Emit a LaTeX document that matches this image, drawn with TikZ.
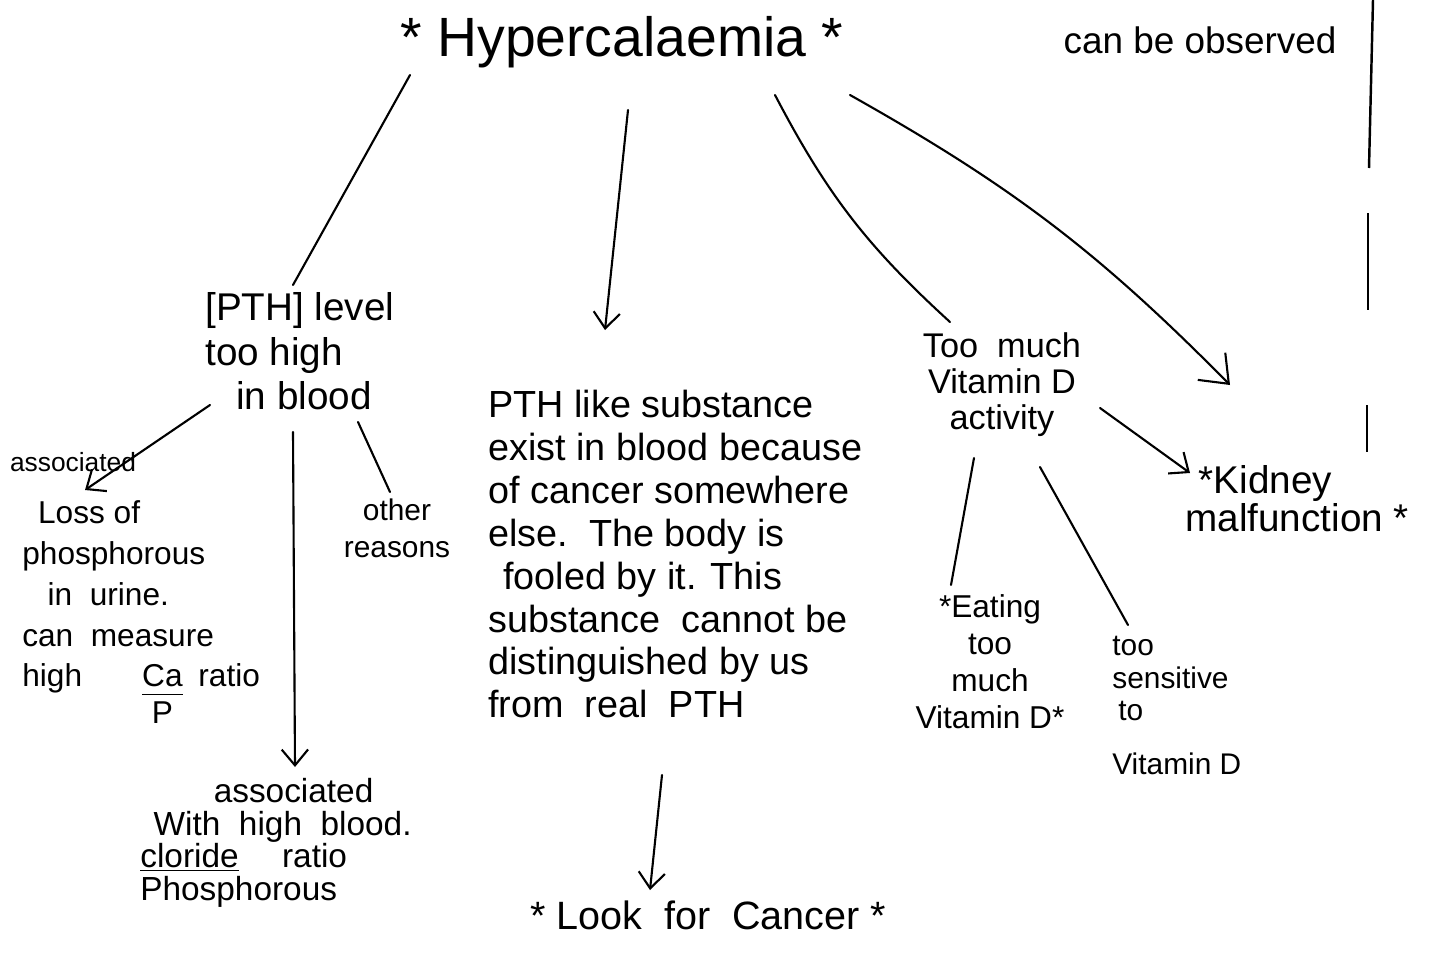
\documentclass[tikz,border=0pt]{standalone}
\usepackage{fontspec}
\setmainfont{Liberation Sans}
\usetikzlibrary{arrows.meta,calc}
\tikzset{
  hand/.style={font=\fontsize{17}{23}\selectfont, inner sep=0pt, align=center},
  link/.style={line width=1.2pt, line cap=round},
  arr/.style={link, -{Straight Barb[length=9pt,width=15pt,line width=1.2pt]}},
  bigarr/.style={link, -{Straight Barb[length=14pt,width=22pt,line width=1.2pt]}},
  edge/.style={line width=1.4pt}
}
\begin{document}
\begin{tikzpicture}[x=0.02cm,y=-0.02cm]
\useasboundingbox (0,0) rectangle (1431,957);
% nodes
\node[hand, font=\fontsize{31.5}{34}\selectfont] (title) at (622,42) {* Hypercalaemia *};
\node[hand, font=\fontsize{21}{24}\selectfont] (obs) at (1200,40) {can be observed};
\node[hand, anchor=north west, align=left, font=\fontsize{22}{25.5}\selectfont] (pth) at (205,292) {[PTH] level\\too high\\\hspace{0.8em}in blood};
\node[hand, font=\fontsize{15}{18}\selectfont] (asslab) at (73,462) {associated};
\node[hand, anchor=north west, align=left, font=\fontsize{18}{23.3}\selectfont] (loss) at (22,500) {\hspace{0.5em}Loss of\\phosphorous\\\hspace{0.8em}in \ urine.\\can \ measure\\high\hspace{1.9em}\begin{tabular}[t]{@{}c@{}}Ca\\[-3pt]\hline\rule{0pt}{15pt}P\end{tabular}\hspace{0.5em}ratio};
\node[hand, font=\fontsize{17}{21}\selectfont] (other) at (397,528) {other\\reasons};
\node[hand, anchor=north west, align=left, font=\fontsize{19}{18.5}\selectfont] (assoc) at (140,778) {\hspace{2.2em}associated\\\hspace{0.4em}With \ high \ blood.\\\underline{cloride}\hspace{1.3em}ratio\\Phosphorous};
\node[hand, anchor=north west, align=left, font=\fontsize{21.5}{24.4}\selectfont] (mid) at (488,390) {PTH like substance\\exist in blood because\\of cancer somewhere\\else.\ \ The body is\\\hspace{0.4em}fooled by it. This\\substance \ cannot be\\distinguished by us\\from \ real \ PTH};
\node[hand, font=\fontsize{22.5}{26}\selectfont] (look) at (708,915) {* Look \ for \ Cancer *};
\node[hand, font=\fontsize{19.5}{20.5}\selectfont] (vit) at (1002,385) {Too \ much\\Vitamin D\\activity};
\node[hand, anchor=north west, align=left, font=\fontsize{22}{20}\selectfont] (kid) at (1185,465) {\hspace{0.35em}*Kidney\\malfunction *};
\node[hand, font=\fontsize{18}{21}\selectfont] (eat) at (990,662) {*Eating\\too\\much\\Vitamin D*};
\node[hand, anchor=north west, align=left, font=\fontsize{17}{18.5}\selectfont] (sens) at (1112,636) {too\\sensitive\\\hspace{0.2em}to\\[12pt]Vitamin D};
% connectors
\draw[link] ($(title)+(-212,33)$) -- ($(pth.north west)+(88,-7)$);
\draw[arr] ($(title)+(6,68)$) -- ($(mid.north west)+(117,-60)$);
\draw[link] ($(title)+(153,53)$) to[bend right=10] ($(vit)+(-52,-63)$);
\draw[bigarr] ($(title)+(228,53)$) to[bend left=8] ($(kid.north west)+(45,-80)$);
\draw[arr] ($(pth.north west)+(5,113)$) -- ($(loss.north west)+(63,-10)$);
\draw[arr] ($(pth.north west)+(88,140)$) -- ($(assoc.north west)+(155,-11)$);
\draw[link] ($(pth.north west)+(153,130)$) -- ($(other)+(-7,-36)$);
\draw[arr] ($(mid.north west)+(174,385)$) -- ($(look)+(-58,-25)$);
\draw[arr] ($(vit)+(98,23)$) -- ($(kid.north west)+(5,8)$);
\draw[link] ($(vit)+(-28,73)$) -- ($(eat)+(-39,-77)$);
\draw[link] ($(vit)+(38,82)$) -- ($(sens.north west)+(16,-11)$);
% page edge line
\draw[edge] (1373,0) -- (1369,168);
\draw[edge] (1368,213) -- (1368,310);
\draw[edge] (1367,405) -- (1367,452);
\end{tikzpicture}
\end{document}
